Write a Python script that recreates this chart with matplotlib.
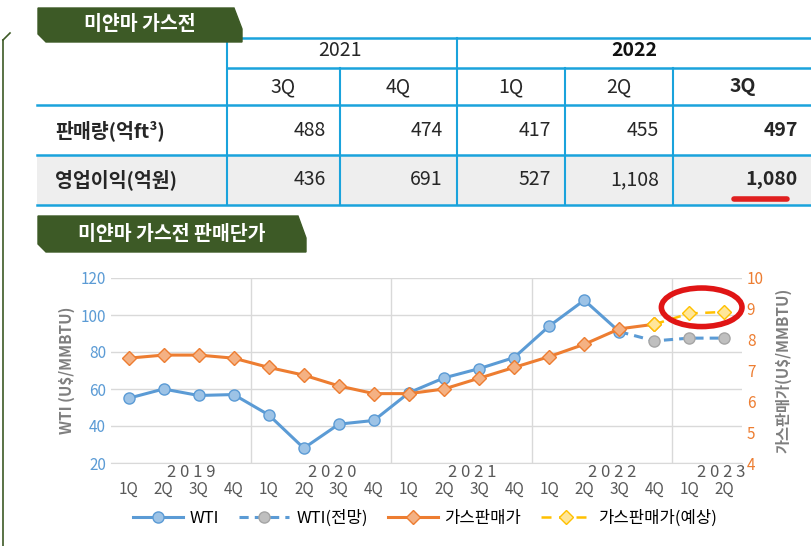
import matplotlib

matplotlib.use("Agg")
import matplotlib.pyplot as plt
from matplotlib.patches import Rectangle, Polygon, Ellipse
from matplotlib.lines import Line2D

plt.rcParams["font.family"] = ["Noto Sans CJK KR", "DejaVu Sans"]

# ---- data ----
quarters = ["1Q", "2Q", "3Q", "4Q"] * 4 + ["1Q", "2Q"]
years = ["2 0 1 9", "2 0 2 0", "2 0 2 1", "2 0 2 2", "2 0 2 3"]
wti = [55, 60, 56.5, 57, 46, 28, 41, 43, 58, 66, 71, 77, 94, 108, 91]
wti_fc = [91, 86, 87.5, 87.5]          # 2022 3Q .. 2023 2Q
gas = [7.4, 7.5, 7.5, 7.4, 7.1, 6.85, 6.5, 6.25, 6.25, 6.4, 6.75, 7.1, 7.45, 7.85, 8.35, 8.5]
gas_fc = [8.5, 8.85, 8.9]              # 2022 4Q .. 2023 2Q

tbl_years = ["2021", "2022"]
tbl_quarters = ["3Q", "4Q", "1Q", "2Q", "3Q"]
tbl_rows = ["판매량(억ft³)", "영업이익(억원)"]
volume = ["488", "474", "417", "455", "497"]
profit = ["436", "691", "527", "1,108", "1,080"]

W, H = 812, 546
fig = plt.figure(figsize=(W / 100, H / 100), dpi=100)


def fx(x):
    return x / W


def fy(y):
    return 1 - y / H


green = "#3d5a26"
cyan = "#1aa3dc"
ink = "#262626"

# left frame line
fig.add_artist(Line2D([fx(3), fx(3)], [fy(40), fy(546)], color=green, lw=1.2))
fig.add_artist(Line2D([fx(3), fx(10)], [fy(40), fy(33)], color=green, lw=1.2))


def label_box(x0, x1, y0, y1, text):
    pts = [(fx(x0), fy(y0)), (fx(x1 - 8), fy(y0)), (fx(x1), fy((y0 + y1) / 2 + 4)),
           (fx(x1), fy(y1)), (fx(x0 + 8), fy(y1)), (fx(x0), fy(y1 - 8))]
    fig.add_artist(Polygon(pts, closed=True, color=green, zorder=5))
    fig.text(fx((x0 + x1) / 2), fy((y0 + y1) / 2), text, color="white", fontsize=14,
             fontweight="bold", ha="center", va="center", zorder=6)


# ---- table ----
cols = [37, 227, 340, 457, 565, 673, 812]
fig.add_artist(Rectangle((fx(37), fy(205)), fx(812 - 37), 50 / H, color="#eeeeee", lw=0))
for y, x0 in [(38, 227), (68, 227), (105, 37), (155, 37), (205, 37)]:
    fig.add_artist(Line2D([fx(x0), fx(812)], [fy(y), fy(y)], color=cyan, lw=1.8))
for x in cols[1:-1]:
    top = 38 if x in (227, 457) else 68
    fig.add_artist(Line2D([fx(x), fx(x)], [fy(top), fy(205)], color=cyan, lw=1.5))
fig.text(fx(340), fy(50), tbl_years[0], fontsize=14, ha="center", va="center",
         fontweight="medium", color=ink)
fig.text(fx(634), fy(50), tbl_years[1], fontsize=14, ha="center", va="center",
         fontweight="bold", color="#111")
for i, q in enumerate(tbl_quarters):
    cx = (cols[i + 1] + cols[i + 2]) / 2
    wt = "bold" if i == 4 else "medium"
    fig.text(fx(cx), fy(87), q, fontsize=14, ha="center", va="center", fontweight=wt, color=ink)
    for vals, yy in [(volume, 131), (profit, 180)]:
        fig.text(fx(cols[i + 2] - 14), fy(yy), vals[i], fontsize=14, ha="right", va="center",
                 fontweight=wt, color=ink)
fig.text(fx(55), fy(131), tbl_rows[0], fontsize=14, fontweight="bold", va="center", color=ink)
fig.text(fx(55), fy(180), tbl_rows[1], fontsize=14, fontweight="bold", va="center", color=ink)
fig.add_artist(Line2D([fx(734), fx(787)], [fy(199), fy(199)], color="#e02020", lw=4,
                      solid_capstyle="round"))

label_box(38, 242, 8, 42, "미얀마 가스전")
label_box(38, 306, 216, 252, "미얀마 가스전 판매단가")

# ---- chart ----
ax = fig.add_axes([fx(111), fy(463), fx(742 - 111), (463 - 278) / H])
ax2 = ax.twinx()
n = len(quarters)
x = list(range(n))
blue = "#5b9bd5"
orange = "#ed7d31"
ax.plot(x[:len(wti)], wti, color=blue, lw=2.2, marker="o", ms=8, mfc="#9dc3e6", mec=blue, zorder=3)
ax.plot(x[14:14 + len(wti_fc)], wti_fc, color=blue, lw=2.2, ls=(0, (3, 2)), zorder=2)
ax.plot(x[15:18], wti_fc[1:], ls="none", marker="o", ms=8, mfc="#bfbfbf", mec="#a5a5a5", zorder=3)
ax2.plot(x[:len(gas)], gas, color=orange, lw=2.2, marker="D", ms=7, mfc="#f4b183", mec=orange, zorder=3)
ax2.plot(x[15:18], gas_fc, color="#ffc000", lw=1.8, ls=(0, (4, 3)), marker="D", ms=7,
         mfc="#ffe699", mec="#ffc000", zorder=3)
# red hand-drawn highlight
ax2.add_patch(Ellipse((16.35, 9.05), 2.3, 1.25, fill=False, ec="#e01515", lw=4, zorder=5,
                      clip_on=False))

ax.set_xlim(-0.5, n - 0.5)
ax.set_ylim(20, 120)
ax2.set_ylim(4, 10)
ax.set_yticks(range(20, 121, 20))
ax2.set_yticks(range(4, 11))
ax.set_xticks([3.5, 7.5, 11.5, 15.5])
ax.set_xticklabels([])
ax.tick_params(axis="x", length=0)
ax.grid(True, color="#d9d9d9", lw=1)
for a in (ax, ax2):
    for s in a.spines.values():
        s.set_visible(False)
    a.tick_params(axis="y", length=0, labelsize=11)
ax.spines["bottom"].set_visible(True)
ax.spines["bottom"].set_color("#d9d9d9")
ax.tick_params(axis="y", colors=blue)
ax2.tick_params(axis="y", colors=orange)
ax.set_ylabel("WTI (U$/MMBTU)", color="#7f7f7f", fontsize=11, fontweight="bold")
ax2.set_ylabel("가스판매가(U$/MMBTU)", color="#7f7f7f", fontsize=11, rotation=90,
               labelpad=8, fontweight="bold")
for i, q in enumerate(quarters):
    ax.text(i, -0.14, q, transform=ax.get_xaxis_transform(), ha="center", va="center",
            fontsize=11, color="#595959")
for i, yl in enumerate(years):
    cx = 4 * i + 1.8 if i < 4 else 16.9
    ax.text(cx, -0.05, yl, transform=ax.get_xaxis_transform(), ha="center", va="center",
            fontsize=12, color="#595959")

handles = [
    Line2D([], [], color=blue, lw=2.2, marker="o", ms=8, mfc="#9dc3e6", mec=blue),
    Line2D([], [], color=blue, lw=2.2, ls=(0, (3, 2)), marker="o", ms=8, mfc="#bfbfbf", mec="#a5a5a5"),
    Line2D([], [], color=orange, lw=2.2, marker="D", ms=7, mfc="#f4b183", mec=orange),
    Line2D([], [], color="#ffc000", lw=1.8, ls=(0, (4, 3)), marker="D", ms=7, mfc="#ffe699", mec="#ffc000"),
]
fig.legend(handles, ["WTI", "WTI(전망)", "가스판매가", "가스판매가(예상)"], loc="center",
           bbox_to_anchor=(fx(425), fy(518)), ncol=4, frameon=False, fontsize=12,
           handlelength=3, columnspacing=1.2, handletextpad=0.4)

fig.savefig("out.png", dpi=100)
